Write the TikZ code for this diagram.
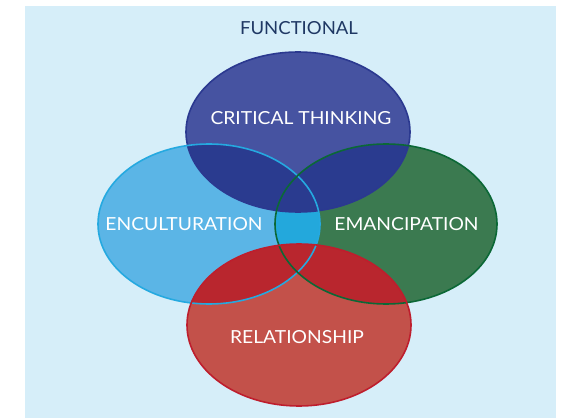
\documentclass[tikz,border=0pt]{standalone}
\usepackage{graphicx}
\usepackage{fontspec}
\setmainfont{Lato}
\definecolor{bgc}{HTML}{D6EEF9}
\definecolor{topf}{HTML}{4653A1}
\definecolor{topd}{HTML}{2A3B8F}
\definecolor{topb}{HTML}{2B3990}
\definecolor{leftf}{HTML}{5BB5E6}
\definecolor{leftb}{HTML}{25A9E0}
\definecolor{midc}{HTML}{23A8DC}
\definecolor{rightf}{HTML}{3B7A50}
\definecolor{rightb}{HTML}{0B6836}
\definecolor{botf}{HTML}{C3514A}
\definecolor{botd}{HTML}{B9262E}
\definecolor{botb}{HTML}{BE1E2D}
\definecolor{navy}{HTML}{1F3864}
\newcommand{\widelbl}[1]{\scalebox{1.07}[1]{#1}}
\tikzset{
  lbl/.style={text=white,font=\fontsize{18}{21}\selectfont,inner sep=0pt},
  rim/.style={line width=1.6pt}
}
\newcommand{\ETop}{(298,286) ellipse [x radius=112,y radius=80]}
\newcommand{\ELeft}{(209,194) ellipse [x radius=111,y radius=80]}
\newcommand{\ERight}{(386,194) ellipse [x radius=111,y radius=80]}
\newcommand{\EBot}{(299,93) ellipse [x radius=112,y radius=81]}
\begin{document}
\begin{tikzpicture}[x=1pt,y=1pt]
\useasboundingbox (0,0) rectangle (569,418);
\fill[bgc] (25,0) rectangle (556,412);
% left and right
\fill[leftf] \ELeft;
\fill[rightf] \ERight;
\begin{scope}\clip \ELeft; \fill[midc] \ERight; \end{scope}
% top
\fill[topf] \ETop;
\begin{scope}\clip \ETop; \fill[topd] \ELeft; \fill[topd] \ERight; \end{scope}
% bottom
\fill[botf] \EBot;
\begin{scope}\clip \EBot; \fill[botd] \ELeft; \fill[botd] \ERight; \end{scope}
% outlines
\draw[rim,topb] \ETop;
\draw[rim,leftb] \ELeft;
\draw[rim,rightb] \ERight;
\draw[rim,botb] \EBot;
% labels
\node[text=navy,font=\fontsize{18}{21}\selectfont,inner sep=0pt] (func) at (299,389.5) {\scalebox{1.03}[1]{FUNCTIONAL}};
\node[lbl] (crit) at (301,300) {\widelbl{CRITICAL THINKING}};
\node[lbl] (encu) at (184,194) {\widelbl{ENCULTURATION}};
\node[lbl] (eman) at (406.5,194) {\widelbl{EMANCIPATION}};
\node[lbl] (rela) at (297,81) {\widelbl{RELATIONSHIP}};
\end{tikzpicture}
\end{document}
